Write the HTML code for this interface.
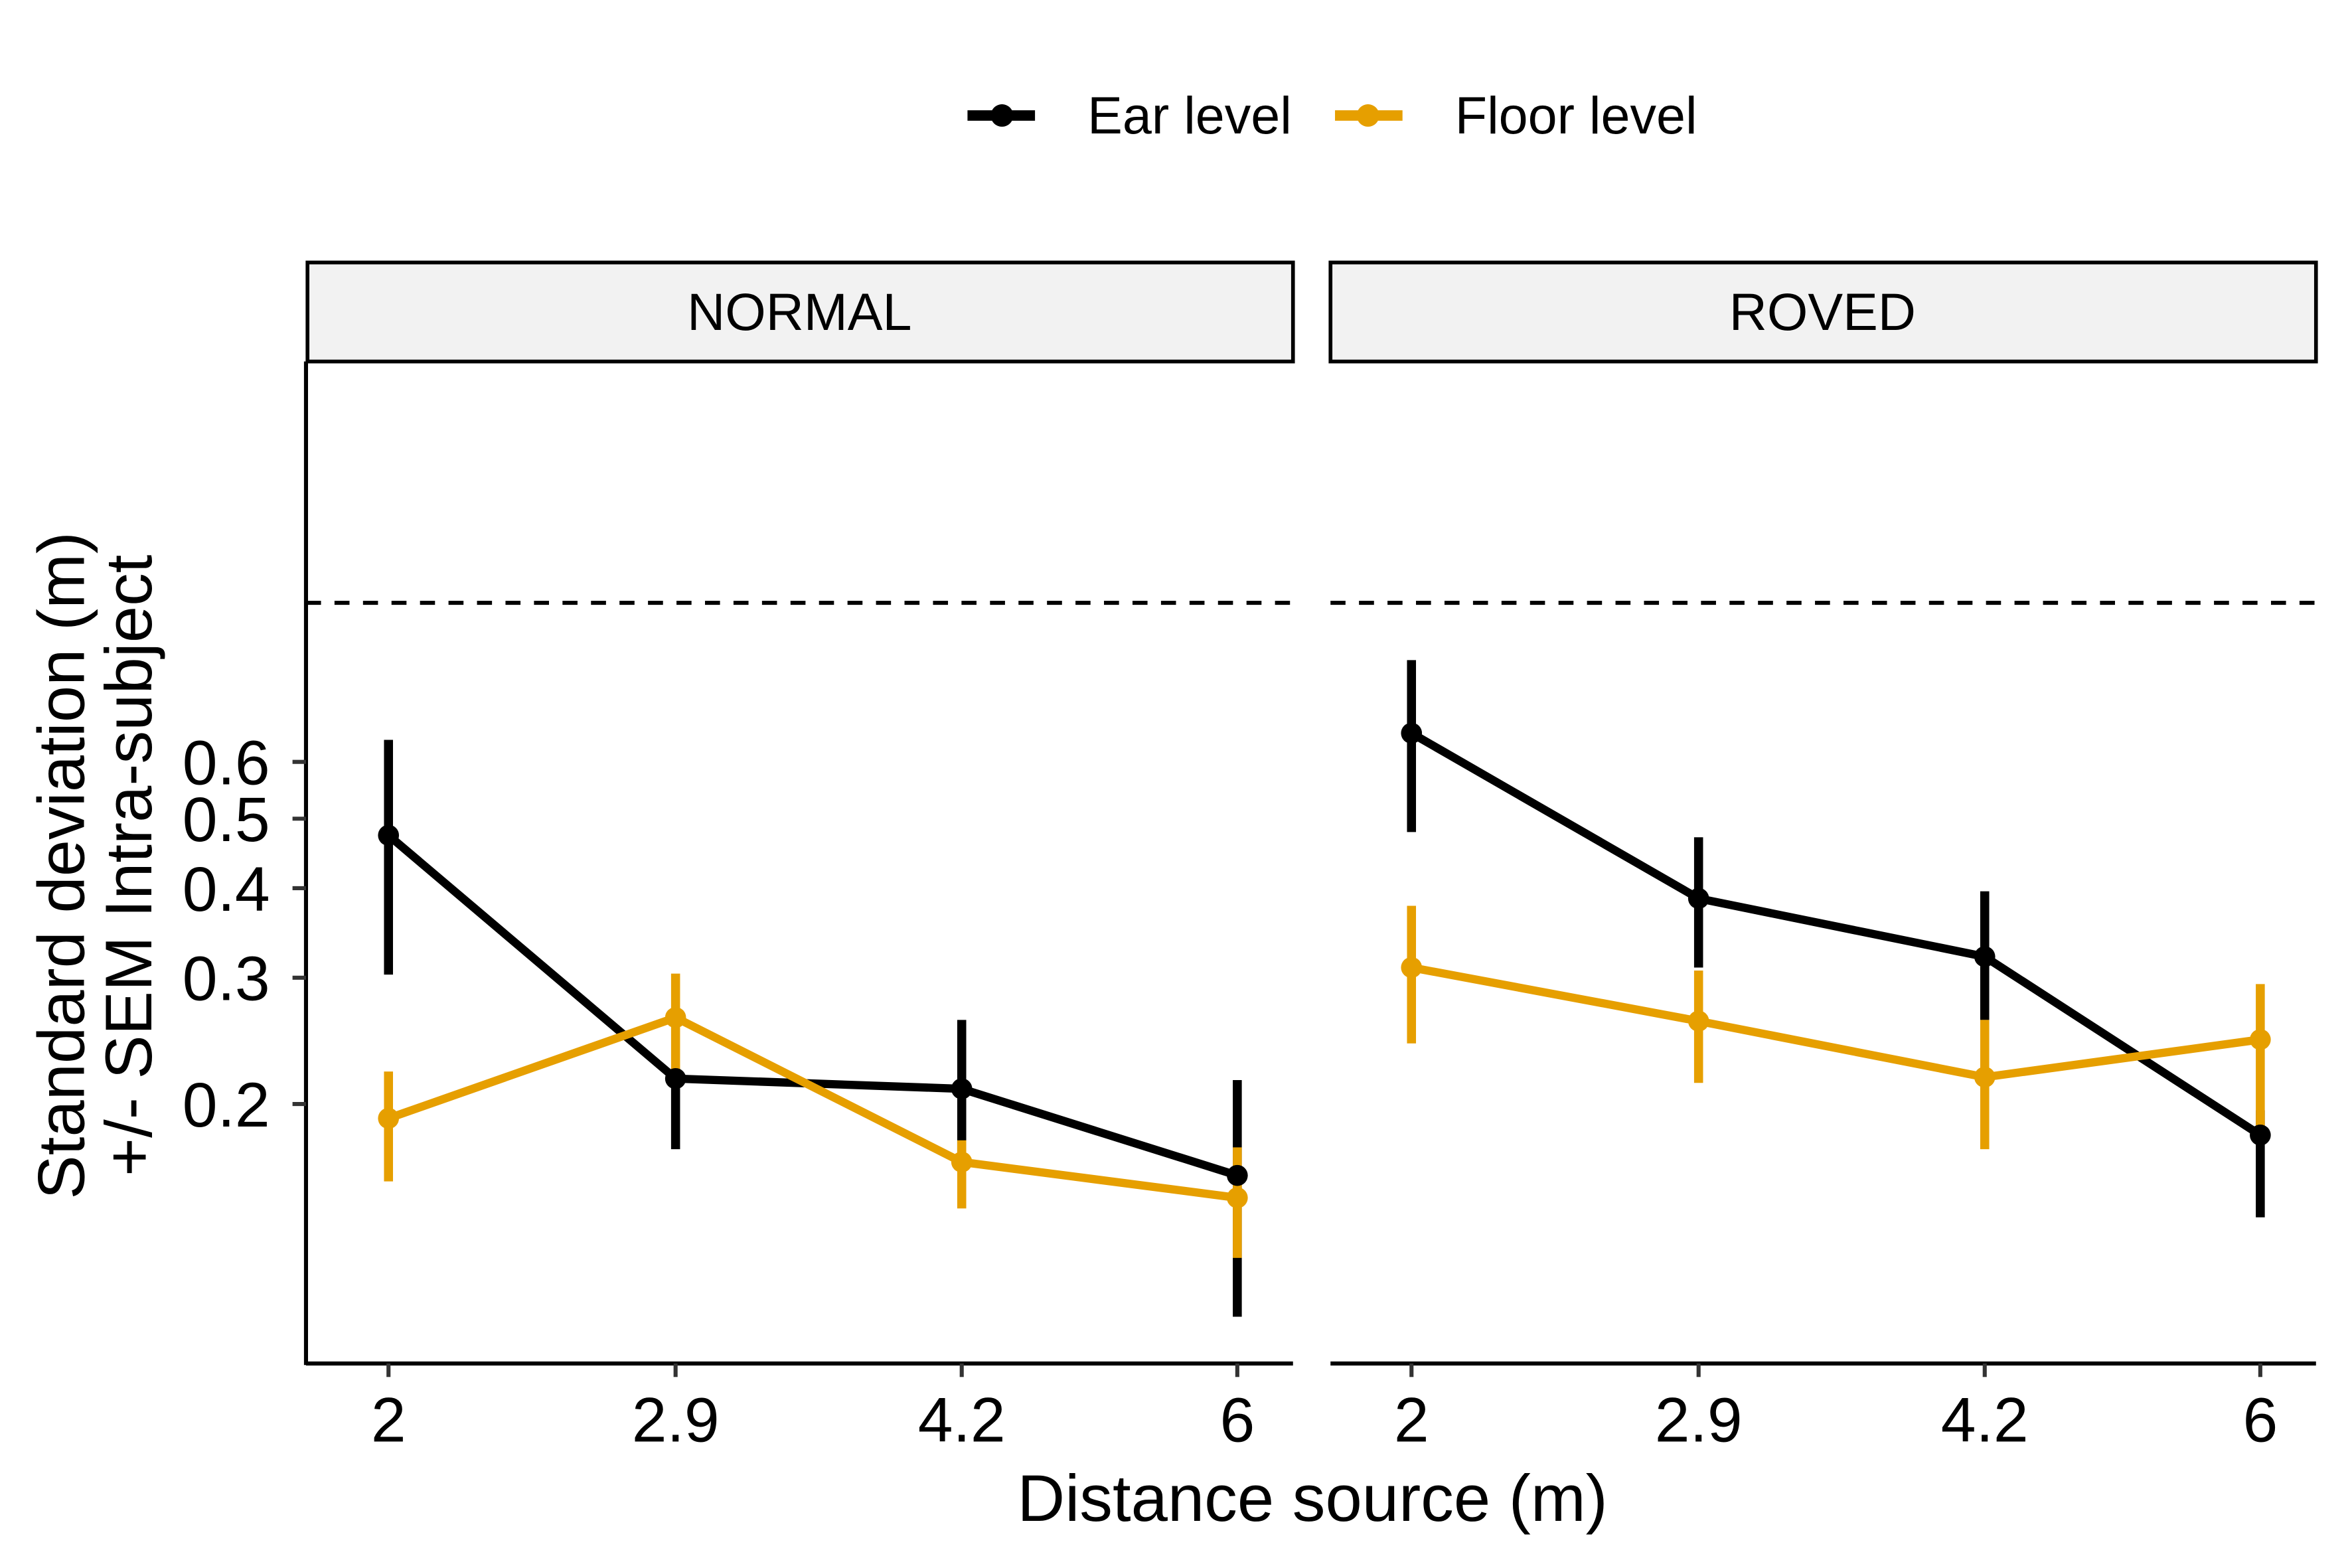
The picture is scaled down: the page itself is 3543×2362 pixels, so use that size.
<!DOCTYPE html>
<html><head><meta charset="utf-8"><style>html,body{margin:0;padding:0;background:#fff}svg{display:block}text{font-family:"Liberation Sans",Arial,sans-serif}</style></head>
<body>
<svg id="chart" width="3543" height="2362" viewBox="0 0 1568 1045.33" xmlns="http://www.w3.org/2000/svg">
<rect width="1568" height="1046" fill="#fff"/>
<g id="legend">
 <g>
  <line x1="645" y1="77" x2="690" y2="77" stroke="#000" stroke-width="7"/><circle cx="668" cy="77" r="7.5" fill="#000"/>
  <text x="725" y="89" font-size="35">Ear level</text></g>
 <g>
  <line x1="890" y1="77" x2="935" y2="77" stroke="#E69F00" stroke-width="7"/><circle cx="912" cy="77" r="7.5" fill="#E69F00"/>
  <text x="970" y="89" font-size="35">Floor level</text></g>
</g>
<g><rect x="205" y="175" width="657" height="66" fill="#f2f2f2" stroke="#000" stroke-width="2.5"/><text x="533" y="220" font-size="35" text-anchor="middle">NORMAL</text></g>
<g><rect x="887" y="175" width="657" height="66" fill="#f2f2f2" stroke="#000" stroke-width="2.5"/><text x="1215" y="220" font-size="35" text-anchor="middle">ROVED</text></g>
<g id="axes"></g>
<g id="marks"></g>
<text x="875" y="1014" font-size="44" text-anchor="middle">Distance source (m)</text>
<text transform="translate(56,577) rotate(-90)" font-size="44" text-anchor="middle">Standard deviation (m)</text>
<text transform="translate(101,577) rotate(-90)" font-size="44" text-anchor="middle">+/- SEM Intra-subject</text>
</svg>
<script>
const distances=[2,2.9,4.2,6];
const xTickLabels=["2","2.9","4.2","6"];
const yTicks=[0.2,0.3,0.4,0.5,0.6];
const yTickLabels=["0.2","0.3","0.4","0.5","0.6"];
const refValue=1;
const normalEarMean=[0.474,0.217,0.210,0.159];
const normalEarLo=[0.303,0.173,0.162,0.101];
const normalEarHi=[0.644,0.224,0.262,0.216];
const normalFloorMean=[0.191,0.264,0.166,0.148];
const normalFloorLo=[0.156,0.221,0.143,0.122];
const normalFloorHi=[0.222,0.304,0.178,0.174];
const rovedEarMean=[0.658,0.387,0.321,0.181];
const rovedEarLo=[0.479,0.310,0.262,0.139];
const rovedEarHi=[0.832,0.471,0.396,0.196];
const rovedFloorMean=[0.310,0.261,0.218,0.246];
const rovedFloorLo=[0.243,0.214,0.173,0.178];
const rovedFloorHi=[0.378,0.307,0.262,0.294];

const NS="http://www.w3.org/2000/svg";
function y(v){return 736-(Math.log10(v)-Math.log10(0.2))*478;}
function xf(off){return d=>off+(Math.log10(d)-Math.log10(2))*1186;}
const panels=[{name:'normal',off:259,left:204,right:862,ear:[normalEarMean,normalEarLo,normalEarHi],floor:[normalFloorMean,normalFloorLo,normalFloorHi]},
{name:'roved',off:941,left:887,right:1544,ear:[rovedEarMean,rovedEarLo,rovedEarHi],floor:[rovedFloorMean,rovedFloorLo,rovedFloorHi]}];
function mk(tag,attrs,parent){const e=document.createElementNS(NS,tag);for(const k in attrs)e.setAttribute(k,attrs[k]);parent.appendChild(e);return e;}
const axes=document.getElementById('axes'),marks=document.getElementById('marks');
let ya=mk('line',{x1:204,y1:241,x2:204,y2:910,stroke:'#000','stroke-width':2.7},axes);


yTicks.forEach((v,i)=>{
 let t=mk('line',{x1:195,x2:204,y1:y(v),y2:y(v),stroke:'#333','stroke-width':2.7},axes);
 
 
 let l=mk('text',{x:180,y:y(v)+15,'font-size':42,'text-anchor':'end'},axes);l.textContent=yTickLabels[i];
 
 
});
const colors={ear:'#000',floor:'#E69F00'};
panels.forEach(p=>{
 const x=xf(p.off);
 let xa=mk('line',{x1:p.left,x2:p.right,y1:909,y2:909,stroke:'#000','stroke-width':2.7},axes);
 
 
 let dl=mk('line',{x1:p.left,x2:p.right,y1:y(refValue),y2:y(refValue),stroke:'#000','stroke-width':2.7,'stroke-dasharray':'10,9'},axes);
 
 
 distances.forEach((d,i)=>{
  let t=mk('line',{x1:x(d),x2:x(d),y1:909,y2:918,stroke:'#333','stroke-width':2.7},axes);
  
  
  let l=mk('text',{x:x(d),y:961,'font-size':42,'text-anchor':'middle'},axes);l.textContent=xTickLabels[i];
  
  
 });
 ['ear','floor'].forEach(s=>{
  const [m,lo,hi]=p[s];
  distances.forEach((d,i)=>{
   let e=mk('line',{x1:x(d),x2:x(d),y1:y(lo[i]),y2:y(hi[i]),stroke:colors[s],'stroke-width':6},marks);
   
   
  });
 });
 ['ear','floor'].forEach(s=>{
  const m=p[s][0];
  let pl=mk('polyline',{points:distances.map((d,i)=>x(d)+','+y(m[i])).join(' '),fill:'none',stroke:colors[s],'stroke-width':5.5},marks);
  
  
  distances.forEach((d,i)=>{
   let c=mk('circle',{cx:x(d),cy:y(m[i]),r:7,fill:colors[s]},marks);
   
   
  });
 });
});
</script>
</body></html>
